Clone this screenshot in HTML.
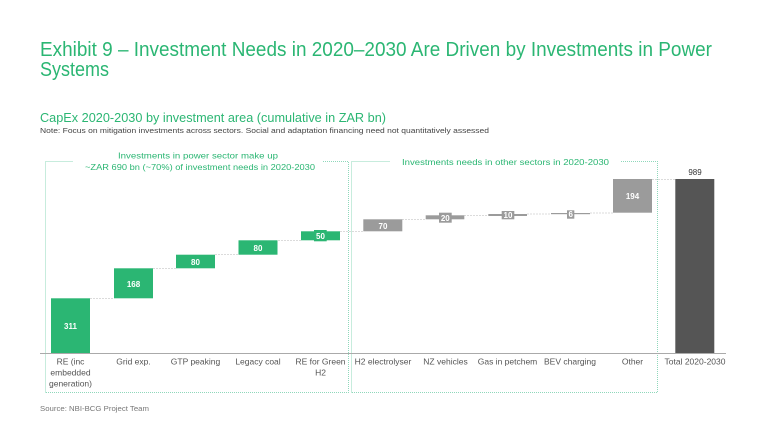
<!DOCTYPE html>
<html><head><meta charset="utf-8"><style>
html,body{margin:0;padding:0;background:#fff;}
svg{display:block;font-family:"Liberation Sans",sans-serif;}
</style></head><body>
<svg width="768" height="432" viewBox="0 0 768 432" xmlns="http://www.w3.org/2000/svg">
<rect width="768" height="432" fill="#fff"/>
<!-- Title -->
<text x="40" y="56" font-size="20" fill="#2bb673" textLength="672" lengthAdjust="spacingAndGlyphs">Exhibit 9 – Investment Needs in 2020–2030 Are Driven by Investments in Power</text>
<text x="40" y="76" font-size="20" fill="#2bb673" textLength="69" lengthAdjust="spacingAndGlyphs">Systems</text>
<text x="40" y="122" font-size="13" fill="#2bb673" textLength="346" lengthAdjust="spacingAndGlyphs">CapEx 2020-2030 by investment area (cumulative in ZAR bn)</text>
<text x="40" y="133" font-size="7.5" fill="#444" textLength="449" lengthAdjust="spacingAndGlyphs">Note: Focus on mitigation investments across sectors. Social and adaptation financing need not quantitatively assessed</text>

<!-- dotted boxes -->
<g stroke="#8fd8bb" stroke-width="1" stroke-dasharray="1 1" fill="none">
<path d="M45.5 392.5 L45.5 161.5 L73 161.5"/>
<path d="M323 161.5 L348.5 161.5 L348.5 392.5 L45.5 392.5"/>
<path d="M351.5 392.5 L351.5 161.5 L390 161.5"/>
<path d="M621 161.5 L657.5 161.5 L657.5 392.5 L351.5 392.5"/>
</g>
<text x="198" y="158.5" font-size="8.5" fill="#2bb673" text-anchor="middle" textLength="160" lengthAdjust="spacingAndGlyphs">Investments in power sector make up</text>
<text x="200" y="170" font-size="8.5" fill="#2bb673" text-anchor="middle" textLength="230" lengthAdjust="spacingAndGlyphs">~ZAR 690 bn (~70%) of investment needs in 2020-2030</text>
<text x="505.5" y="165" font-size="8.5" fill="#2bb673" text-anchor="middle" textLength="207" lengthAdjust="spacingAndGlyphs">Investments needs in other sectors in 2020-2030</text>

<!-- connectors -->
<g stroke="#cfcfcf" stroke-width="0.8" stroke-dasharray="2 1">
<line x1="90" y1="298.5" x2="114" y2="298.5"/>
<line x1="153" y1="268.5" x2="176" y2="268.5"/>
<line x1="215" y1="254.5" x2="238" y2="254.5"/>
<line x1="278" y1="240.5" x2="301" y2="240.5"/>
<line x1="340" y1="231.5" x2="363" y2="231.5"/>
<line x1="402" y1="219.5" x2="426" y2="219.5"/>
<line x1="464" y1="215.5" x2="488" y2="215.5"/>
<line x1="527" y1="214" x2="551" y2="214"/>
<line x1="590" y1="213" x2="613" y2="213"/>
<line x1="652" y1="179.5" x2="675" y2="179.5"/>
</g>

<!-- green bars -->
<g fill="#2bb673">
<rect x="51" y="298.3" width="39" height="54.7"/>
<rect x="114" y="268.3" width="39" height="30"/>
<rect x="176" y="254.7" width="39" height="13.6"/>
<rect x="238.5" y="240.3" width="39" height="14.4"/>
<rect x="301" y="231.3" width="39" height="9"/>
<rect x="314" y="230" width="12.7" height="11.3"/>
</g>
<!-- gray bars -->
<g fill="#9b9b9b">
<rect x="363.3" y="219.3" width="39" height="12"/>
<rect x="425.7" y="215.3" width="38.6" height="4"/>
<rect x="439" y="212.7" width="12.7" height="10"/>
<rect x="488.3" y="214" width="38.7" height="2"/>
<rect x="501.7" y="211" width="12.6" height="8.3"/>
<rect x="551" y="213" width="39" height="1.2"/>
<rect x="567" y="210.3" width="7.3" height="8.4"/>
<rect x="613" y="179" width="39" height="33.7"/>
</g>
<rect x="675.3" y="179" width="39" height="174" fill="#555"/>

<!-- axis -->
<line x1="40" y1="353.5" x2="726" y2="353.5" stroke="#aaa" stroke-width="1"/>

<!-- values -->
<g font-size="8" fill="#fff" text-anchor="middle" font-weight="bold">
<text x="70.5" y="329">311</text>
<text x="133.5" y="287">168</text>
<text x="195.5" y="265">80</text>
<text x="258" y="251">80</text>
<text x="320.5" y="239">50</text>
<text x="383" y="229">70</text>
<text x="445.3" y="221">20</text>
<text x="508" y="218">10</text>
<text x="570.7" y="217">6</text>
<text x="632.5" y="199">194</text>
</g>
<text x="695" y="175" font-size="8" fill="#333" text-anchor="middle">989</text>

<!-- categories -->
<g font-size="8.5" fill="#555" text-anchor="middle">
<text x="70.5" y="364.5">RE (inc</text>
<text x="70.5" y="375.5">embedded</text>
<text x="70.5" y="386.5">generation)</text>
<text x="133.5" y="364.5">Grid exp.</text>
<text x="195.5" y="364.5">GTP peaking</text>
<text x="258" y="364.5">Legacy coal</text>
<text x="320.5" y="364.5">RE for Green</text>
<text x="320.5" y="375.5">H2</text>
<text x="383" y="364.5">H2 electrolyser</text>
<text x="445.5" y="364.5">NZ vehicles</text>
<text x="507.5" y="364.5">Gas in petchem</text>
<text x="570" y="364.5">BEV charging</text>
<text x="632.5" y="364.5">Other</text>
<text x="695" y="364.5">Total 2020-2030</text>
</g>
<text x="40" y="411" font-size="7.5" fill="#777" textLength="109" lengthAdjust="spacingAndGlyphs">Source: NBI-BCG Project Team</text>
</svg>
</body></html>
